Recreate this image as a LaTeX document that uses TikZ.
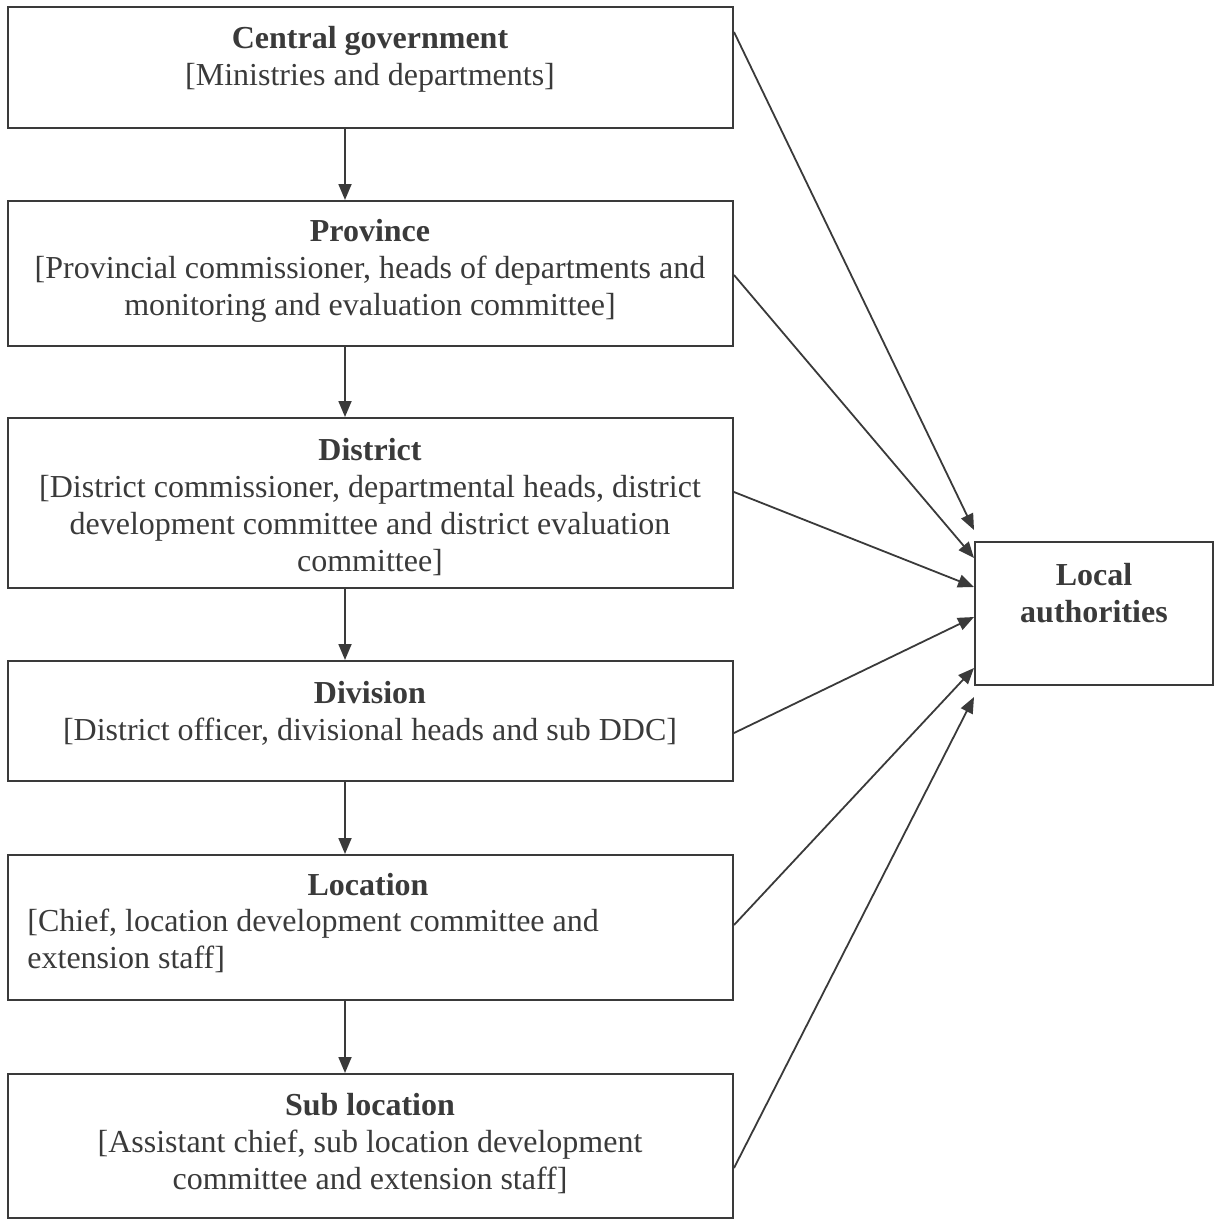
\documentclass[tikz,border=0pt]{standalone}
\usepackage{fontspec}
\setmainfont{Liberation Serif}
\usetikzlibrary{arrows.meta}
\definecolor{ink}{HTML}{3A3A3A}
\def\boxw{362.5pt}

\begin{document}
\begin{tikzpicture}[x=0.5pt, y=-0.5pt,
  every node/.style={align=center, text=ink, font=\fontsize{16}{18.5}\selectfont},
  level/.style={draw=ink, line width=1pt, minimum width=\boxw, inner sep=0pt},
  arr/.style={draw=ink, line width=0.9pt, -{Triangle[length=8pt,width=6.5pt]}}]
\useasboundingbox (0,0) rectangle (1219,1220);
\coordinate (spine) at (345,0);
\node[level, minimum height=60.5pt] (central) at (370.5,67.5) {};
\node[level, minimum height=72.5pt] (province) at (370.5,273.5) {};
\node[level, minimum height=85pt] (district) at (370.5,503) {};
\node[level, minimum height=60pt] (division) at (370.5,721) {};
\node[level, minimum height=72.5pt] (location) at (370.5,927.5) {};
\node[level, minimum height=72pt] (sublocation) at (370.5,1146) {};
\node[level, minimum width=119pt, minimum height=71.5pt] (local) at (1094,613.5) {};
\node (central-t) at (370,59) {\textbf{Central government}\\{}[Ministries and departments]};
\node (province-t) at (370,271) {\textbf{Province}\\{}[Provincial commissioner, heads of departments and\\monitoring and evaluation committee]};
\node (district-t) at (370,507) {\textbf{District}\\{}[District commissioner, departmental heads, district\\development committee and district evaluation\\committee]};
\node (division-t) at (370,713) {\textbf{Division}\\{}[District officer, divisional heads and sub DDC]};
\node (location-t) at (368,885) {\textbf{Location}};
\node[align=left, anchor=west, inner xsep=0pt] (location-b) at (27,941) {[Chief, location development committee and\\extension staff]};
\node (sublocation-t) at (370,1144) {\textbf{Sub location}\\{}[Assistant chief, sub location development\\committee and extension staff]};
\node[font=\fontsize{16}{18.5}\selectfont\bfseries] (local-t) at (1094,593) {Local\\authorities};
\foreach \a/\b in {central/province, province/district, district/division, division/location, location/sublocation}
  \draw[arr] (\a.south -| spine) -- (\b.north -| spine);
\coordinate (in1) at ([yshift=41.75pt]local.west);
\coordinate (in2) at ([yshift=27.75pt]local.west);
\coordinate (in3) at ([yshift=13.25pt]local.west);
\coordinate (in4) at ([yshift=-1.75pt]local.west);
\coordinate (in5) at ([yshift=-27.25pt]local.west);
\coordinate (in6) at ([yshift=-41.75pt]local.west);
\draw[arr] ([yshift=17.75pt]central.east) -- (in1);
\draw[arr] ([yshift=-0.75pt]province.east) -- (in2);
\draw[arr] ([yshift=5.5pt]district.east) -- (in3);
\draw[arr] ([yshift=-6pt]division.east) -- (in4);
\draw[arr] ([yshift=1.25pt]location.east) -- (in5);
\draw[arr] ([yshift=-11pt]sublocation.east) -- (in6);
\end{tikzpicture}
\end{document}
